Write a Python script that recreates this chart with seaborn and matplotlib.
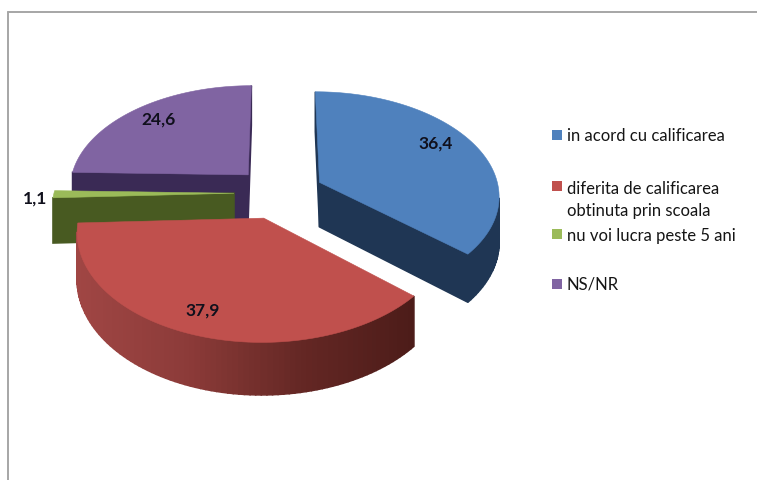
import matplotlib
matplotlib.use('Agg')
import matplotlib.pyplot as plt
from matplotlib.patches import Polygon
import seaborn as sns
import numpy as np

sns.set_theme(style='white')
plt.rcParams['font.family'] = ['Lato', 'DejaVu Sans']

categories = ['in acord cu calificarea', 'diferita de calificarea\nobtinuta prin scoala',
              'nu voi lucra peste 5 ani', 'NS/NR']
values = [36.4, 37.9, 1.1, 24.6]
value_labels = ['36,4', '37,9', '1,1', '24,6']
top_colors = ['#4f81bd', '#c0504d', '#9bbb59', '#8064a2']
wall_colors = [['#1f3654', '#1f3654'],
               ['#a04644', '#8c3b39', '#642724', '#4c1c19'],
               ['#4a5c24', '#46581f'],
               ['#3a2a55', '#3a2a55']]

# view of the tilted pie, in pixels
cx, cy = 279, 194
rx, ry = 180, 103.5
persp = 8.6
depth = 45


def project(x, y, drop=0):
    s = persp / (persp + y)
    return cx + rx * x * s, cy - ry * y * s + drop * s


fig = plt.figure(figsize=(7.57, 4.81), dpi=100)
pie_ax = fig.add_axes([0, 0, 1, 1])
wedges, _ = pie_ax.pie(values, startangle=90, counterclock=False, explode=[0.25] * 4)
pie_ax.set_visible(False)

ax = fig.add_axes([0, 0, 1, 1])
ax.set_xlim(0, 757)
ax.set_ylim(481, 0)
ax.axis('off')

# chart area border, only top and left show
ax.plot([8, 757], [13, 13], color='#a6a6a6', lw=1.4)
ax.plot([8, 8], [13, 481], color='#a6a6a6', lw=1.4)

# back slices first, red sits in front of the others
for i in [3, 2, 0, 1]:
    w = wedges[i]
    t = np.radians(np.linspace(w.theta1, w.theta2, 90))
    xs = np.r_[w.center[0], w.center[0] + np.cos(t)]
    ys = np.r_[w.center[1], w.center[1] + np.sin(t)]
    top = np.array([project(a, b) for a, b in zip(xs, ys)])
    low = np.array([project(a, b, depth) for a, b in zip(xs, ys)])
    cmap = sns.blend_palette(wall_colors[i], as_cmap=True)
    quads = []
    for j in range(len(top)):
        k = (j + 1) % len(top)
        # only edges facing the viewer get a wall
        if top[k, 0] > top[j, 0]:
            quads.append(np.array([top[j], top[k], low[k], low[j]]))
    quads.sort(key=lambda q: q[:, 1].mean())
    xmin, xmax = top[:, 0].min(), top[:, 0].max()
    for q in quads:
        c = cmap((q[:, 0].mean() - xmin) / (xmax - xmin))
        ax.add_patch(Polygon(q, closed=True, facecolor=c, edgecolor=c, lw=1.1))
    ax.add_patch(Polygon(top, closed=True, facecolor=top_colors[i], edgecolor=top_colors[i], lw=0.4))

# value labels
label_pos = [(436, 144), (203, 311), (35, 199), (159, 120)]
for (x, y), s in zip(label_pos, value_labels):
    ax.text(x, y, s, ha='center', va='center', fontsize=12.5, fontweight='bold', color='#10101c')

# legend
marker_y = [136, 187, 235, 285]
text_y = [136, 200, 236, 285]
for c, name, my, ty in zip(top_colors, categories, marker_y, text_y):
    ax.scatter([557], [my], marker='s', s=62, color=c, linewidths=0)
    ax.text(567, ty, name, ha='left', va='center', fontsize=12, color='#151515', linespacing=1.4)

fig.savefig('out.png', dpi=100, facecolor='white')
